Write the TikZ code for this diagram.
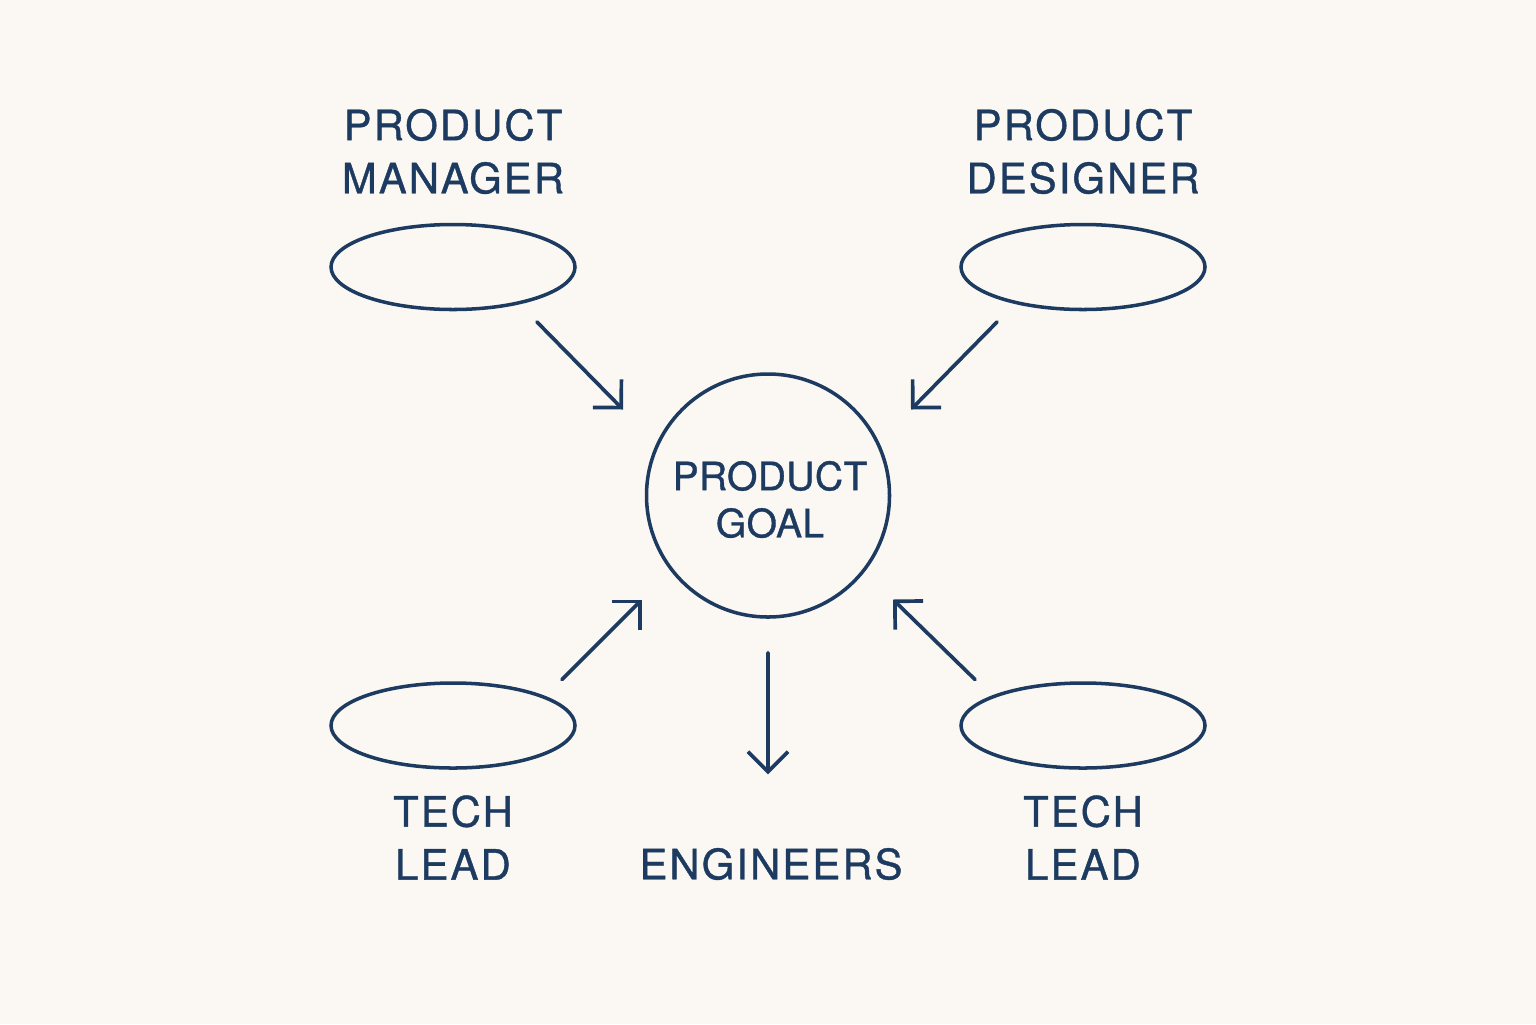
\documentclass[tikz,border=0pt]{standalone}
\usepackage{fontspec}
\setmainfont{TeX Gyre Heros}[LetterSpace=5, FakeBold=0.9]
\newfontfamily\goalfont{TeX Gyre Heros}[LetterSpace=1, FakeBold=0.9]
\usetikzlibrary{calc, arrows.meta, shapes.geometric}

\definecolor{navy}{HTML}{1D3A60}
\definecolor{paper}{HTML}{FBF8F3}

\tikzset{
  role/.style={ellipse, draw=navy, line width=1pt, minimum width=2.44cm, minimum height=0.85cm, inner sep=0pt},
  tag/.style={text=navy, align=center, inner sep=0pt, font=\fontsize{11.9}{15.1}\selectfont},
  flow/.style={navy, line width=1.05pt, line cap=round, -{Straight Barb[length=2mm, width=4mm, line width=1.05pt]}}
}

\begin{document}
\begin{tikzpicture}

\fill[paper] (0,0) rectangle (15.36,-10.24);
\useasboundingbox (0,0) rectangle (15.36,-10.24);

% goal circle
  \node[circle, draw=navy, line width=1pt, minimum size=2.43cm, inner sep=0pt] (goal) at (7.68,-4.955) {};
  \node[text=navy, align=center, inner sep=0pt, font=\goalfont\fontsize{11.1}{13.4}\selectfont] (goaltxt) at (7.70,-4.995) {PRODUCT\\GOAL};

% roles
  \node[role] (pm) at (4.53,-2.67) {};
  \node[role] (pd) at (10.83,-2.67) {};
  \node[role] (tl) at (4.53,-7.255) {};
  \node[role] (tr) at (10.83,-7.255) {};

% role names
  \node[tag] (pmname) at (4.53,-1.515) {PRODUCT\\MANAGER};
  \node[tag] (pdname) at (10.83,-1.515) {PRODUCT\\DESIGNER};
  \node[tag] (tlname) at (4.53,-8.375) {TECH\\LEAD};
  \node[tag] (trname) at (10.83,-8.375) {TECH\\LEAD};
  \node[tag] (eng) at (7.71,-8.64) {ENGINEERS};

% into the goal
  \draw[flow] ([shift={(0.84,-0.55)}]pm.center) -- ([shift={(-1.45,0.86)}]goal.center);
  \draw[flow] ([shift={(-0.86,-0.55)}]pd.center) -- ([shift={(1.43,0.86)}]goal.center);
  \draw[flow] ([shift={(1.09,0.46)}]tl.center) -- ([shift={(-1.26,-1.04)}]goal.center);
  \draw[flow] ([shift={(-1.08,0.46)}]tr.center) -- ([shift={(1.25,-1.04)}]goal.center);

% down to engineers
  \draw[flow] ([yshift=-0.34cm]goal.south) -- ([shift={(-0.03,0.73)}]eng.north);

\end{tikzpicture}
\end{document}
